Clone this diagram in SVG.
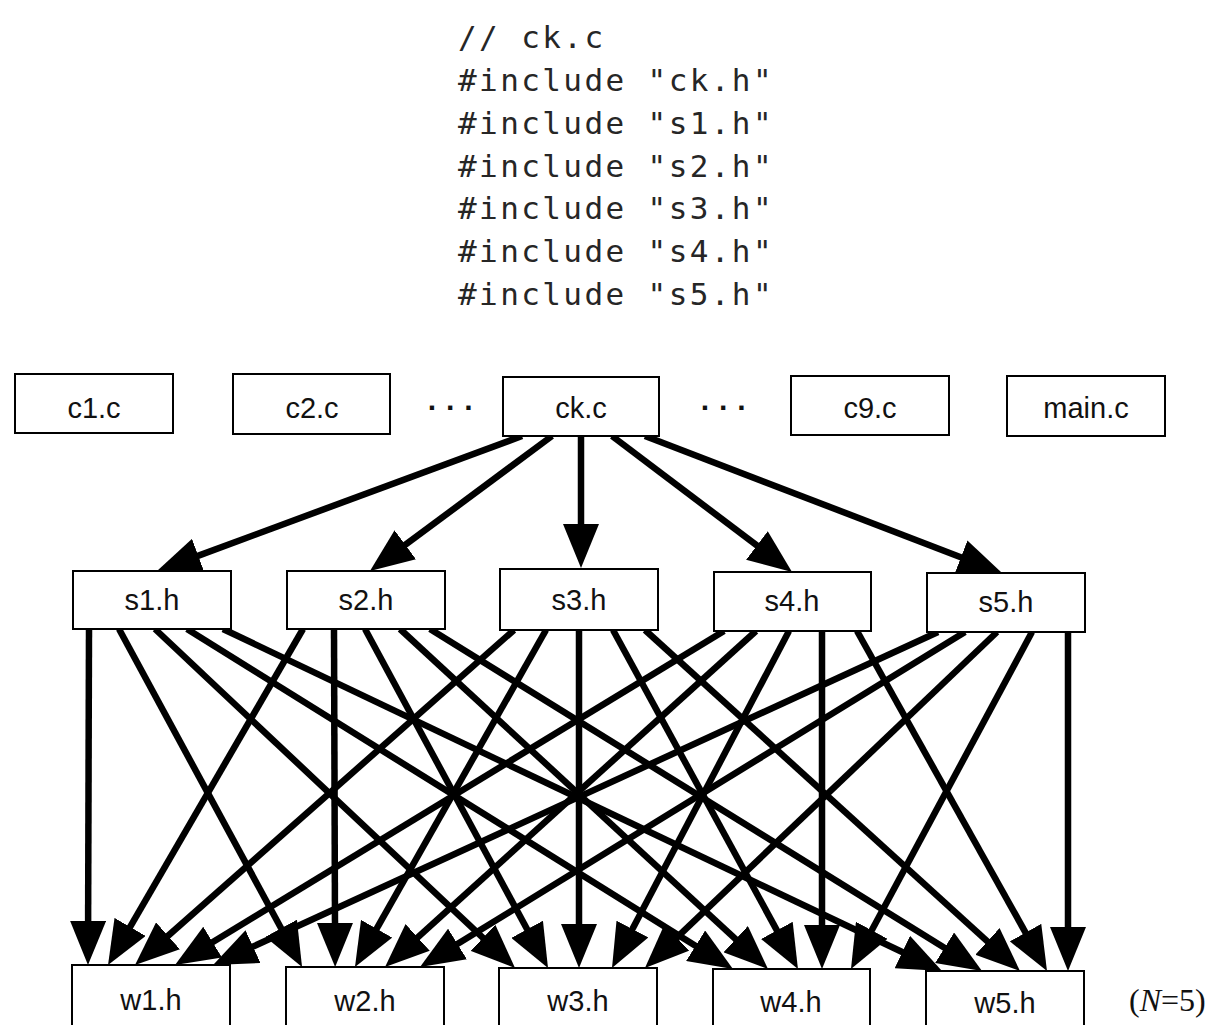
<svg xmlns="http://www.w3.org/2000/svg" width="1213" height="1025" viewBox="0 0 1213 1025">
<style>
.box{fill:#fff;stroke:#000;stroke-width:2}
.lbl{font-family:"Liberation Sans",Arial,sans-serif;font-size:29px;fill:#111;text-anchor:middle}
.code{font-family:"DejaVu Sans Mono",monospace;font-size:31px;fill:#262626;letter-spacing:2.4px}
.dots{font-family:"Liberation Sans",Arial,sans-serif;font-size:30px;fill:#111;text-anchor:middle;font-weight:bold}
.c{stroke:#000;stroke-width:6.5;fill:none;marker-end:url(#ah)}
.note{font-family:"Liberation Serif","Times New Roman",serif;font-size:32px;fill:#111}
</style>
<defs>
<marker id="ah" markerUnits="userSpaceOnUse" viewBox="0 0 44 36" markerWidth="44" markerHeight="36" refX="4" refY="18" orient="auto">
<path d="M0,0 L44,18 L0,36 Z" fill="#000"/>
</marker>
</defs>
<rect width="1213" height="1025" fill="#fff"/>
<g id="code">
<text class="code" x="458" y="48">// ck.c</text>
<text class="code" x="458" y="91">#include "ck.h"</text>
<text class="code" x="458" y="134">#include "s1.h"</text>
<text class="code" x="458" y="177">#include "s2.h"</text>
<text class="code" x="458" y="219">#include "s3.h"</text>
<text class="code" x="458" y="262">#include "s4.h"</text>
<text class="code" x="458" y="305">#include "s5.h"</text>
</g>
<g id="connectors">
<line class="c" x1="522" y1="436" x2="194.5" y2="557.1"/>
<line class="c" x1="552" y1="436" x2="402.1" y2="547.2"/>
<line class="c" x1="581" y1="436" x2="581" y2="528"/>
<line class="c" x1="612" y1="436" x2="760.1" y2="547.9"/>
<line class="c" x1="645" y1="436" x2="964.7" y2="558.7"/>

<line class="c" x1="89" y1="629" x2="88.1" y2="925"/>
<line class="c" x1="119" y1="629" x2="283" y2="931.8"/>
<line class="c" x1="155" y1="629" x2="485.9" y2="940.6"/>
<line class="c" x1="187" y1="629" x2="699" y2="947.9"/>
<line class="c" x1="223" y1="629" x2="905.9" y2="953.8"/>

<line class="c" x1="303" y1="629" x2="128.1" y2="930.4"/>
<line class="c" x1="334" y1="629" x2="335" y2="927"/>
<line class="c" x1="365" y1="629" x2="529" y2="932.8"/>
<line class="c" x1="400" y1="629" x2="738.6" y2="941.9"/>
<line class="c" x1="430" y1="629" x2="948" y2="949.9"/>

<line class="c" x1="514" y1="630" x2="165" y2="938.5"/>
<line class="c" x1="546" y1="630" x2="374.7" y2="932.2"/>
<line class="c" x1="579" y1="630" x2="579" y2="928"/>
<line class="c" x1="613" y1="630" x2="778.8" y2="933.9"/>
<line class="c" x1="645" y1="630" x2="990.4" y2="944.1"/>

<line class="c" x1="724" y1="631" x2="209.2" y2="944.2"/>
<line class="c" x1="756" y1="631" x2="414.7" y2="940.1"/>
<line class="c" x1="789" y1="631" x2="630.6" y2="932.6"/>
<line class="c" x1="822" y1="631" x2="822" y2="929"/>
<line class="c" x1="857" y1="631" x2="1027.5" y2="936.1"/>

<line class="c" x1="938" y1="632" x2="249.4" y2="948.3"/>
<line class="c" x1="965" y1="632" x2="454.1" y2="946.1"/>
<line class="c" x1="997" y1="632" x2="673.9" y2="940.4"/>
<line class="c" x1="1032" y1="632" x2="869.9" y2="933.8"/>
<line class="c" x1="1068" y1="632" x2="1068" y2="931"/>
</g>
<g id="c1"><rect class="box" x="15" y="374" width="158" height="59"/><text class="lbl" x="94" y="418">c1.c</text></g>
<g id="c2"><rect class="box" x="233" y="374" width="157" height="60"/><text class="lbl" x="312" y="418">c2.c</text></g>
<g id="dots1"><text class="dots" x="451" y="418">· · ·</text></g>
<g id="ck"><rect class="box" x="503" y="377" width="156" height="59"/><text class="lbl" x="581" y="418">ck.c</text></g>
<g id="dots2"><text class="dots" x="724" y="418">· · ·</text></g>
<g id="c9"><rect class="box" x="791" y="376" width="158" height="59"/><text class="lbl" x="870" y="418">c9.c</text></g>
<g id="main"><rect class="box" x="1007" y="376" width="158" height="60"/><text class="lbl" x="1086" y="418">main.c</text></g>

<g id="s1"><rect class="box" x="73" y="571" width="158" height="58"/><text class="lbl" x="152" y="610">s1.h</text></g>
<g id="s2"><rect class="box" x="287" y="571" width="158" height="58"/><text class="lbl" x="366" y="610">s2.h</text></g>
<g id="s3"><rect class="box" x="500" y="569" width="158" height="61"/><text class="lbl" x="579" y="610">s3.h</text></g>
<g id="s4"><rect class="box" x="714" y="572" width="157" height="59"/><text class="lbl" x="792" y="611">s4.h</text></g>
<g id="s5"><rect class="box" x="927" y="573" width="158" height="59"/><text class="lbl" x="1006" y="612">s5.h</text></g>

<g id="w1"><rect class="box" x="72" y="965" width="158" height="70"/><text class="lbl" x="151" y="1010">w1.h</text></g>
<g id="w2"><rect class="box" x="286" y="967" width="158" height="70"/><text class="lbl" x="365" y="1011">w2.h</text></g>
<g id="w3"><rect class="box" x="499" y="968" width="158" height="70"/><text class="lbl" x="578" y="1011">w3.h</text></g>
<g id="w4"><rect class="box" x="713" y="969" width="157" height="70"/><text class="lbl" x="791" y="1012">w4.h</text></g>
<g id="w5"><rect class="box" x="926" y="971" width="158" height="70"/><text class="lbl" x="1005" y="1013">w5.h</text></g>
<g id="note"><text class="note" x="1129" y="1011">(<tspan font-style="italic">N</tspan>=5)</text></g>
</svg>
